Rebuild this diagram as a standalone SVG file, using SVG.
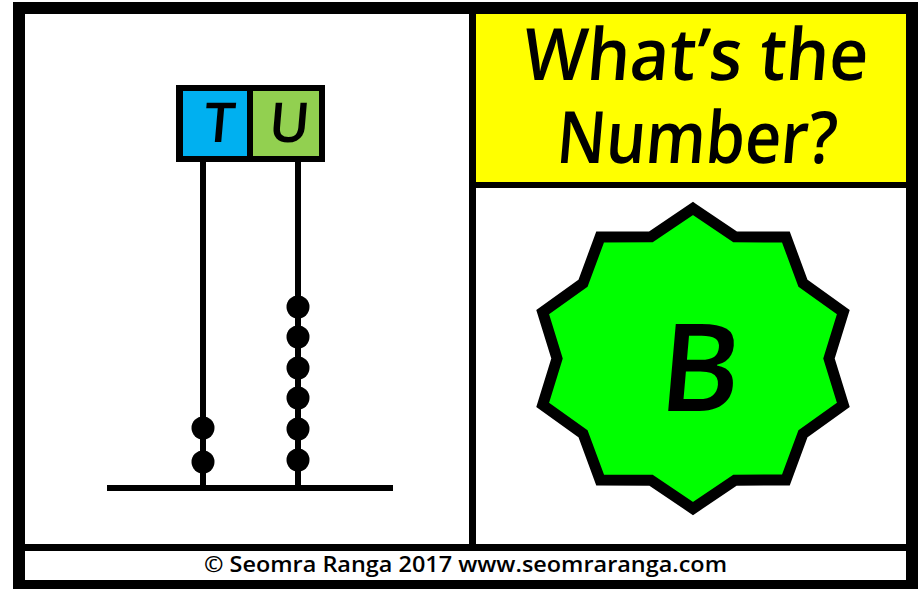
<svg xmlns="http://www.w3.org/2000/svg" width="922" height="589" viewBox="0 0 922 589">
  <style>
    .lbl { font-family: "Open Sans", "Liberation Sans", sans-serif; fill: #000; font-weight: 600; }
    .rod { stroke: #000; stroke-width: 6; fill: none; }
    .bead { fill: #000; }
  </style>
  <g id="frame">
    <rect x="13" y="2" width="905" height="587" fill="#000"/>
    <rect x="25" y="14" width="444" height="530" fill="#fff"/>
    <rect x="476" y="14" width="430" height="168" fill="#ffff00"/>
    <rect x="476" y="188" width="430" height="356" fill="#fff"/>
    <rect x="25" y="551" width="881" height="29" fill="#fff"/>
  </g>
  <g id="title">
    <g transform="translate(694 80) skewX(-5)">
      <text class="lbl" x="0" y="0" font-size="72" text-anchor="middle" textLength="345" lengthAdjust="spacingAndGlyphs">What’s the</text>
    </g>
    <g transform="translate(695 163) skewX(-5)">
      <text class="lbl" x="0" y="0" font-size="72" text-anchor="middle" textLength="280" lengthAdjust="spacingAndGlyphs">Number?</text>
    </g>
  </g>
  <g id="abacus">
    <g id="rods">
      <line class="rod" x1="203" y1="160" x2="203" y2="488"/>
      <line class="rod" x1="298" y1="160" x2="298" y2="488"/>
      <line class="rod" x1="107" y1="488" x2="393" y2="488"/>
    </g>
    <g id="header-box">
      <rect x="176" y="85" width="149" height="77" fill="#000"/>
      <rect x="183" y="91" width="64" height="65" fill="#00b0f0"/>
      <rect x="253" y="91" width="66" height="65" fill="#92d050"/>
      <g transform="translate(218 142) skewX(-5)">
        <text class="lbl" x="0" y="0" font-size="55" text-anchor="middle">T</text>
      </g>
      <g transform="translate(288 142) skewX(-5)">
        <text class="lbl" x="0" y="0" font-size="55" text-anchor="middle">U</text>
      </g>
    </g>
    <g id="tens-beads">
      <circle class="bead" cx="203" cy="428" r="11.5"/>
      <circle class="bead" cx="203" cy="462" r="11.5"/>
    </g>
    <g id="units-beads">
      <circle class="bead" cx="298" cy="307" r="11.5"/>
      <circle class="bead" cx="298" cy="337" r="11.5"/>
      <circle class="bead" cx="298" cy="368" r="11.5"/>
      <circle class="bead" cx="298" cy="398" r="11.5"/>
      <circle class="bead" cx="298" cy="429" r="11.5"/>
      <circle class="bead" cx="298" cy="460" r="11.5"/>
    </g>
  </g>
  <g id="star">
    <polygon points="693,208.5 735,236.8 785.9,237.1 803,283.3 843.3,312.1 829,358.5 843.3,404.9 803,433.7 785.9,479.9 735,480.2 693,508.5 651,480.2 600.1,479.9 583,433.7 542.7,404.9 557,358.5 542.7,312.1 583,283.3 600.1,237.1 651,236.8" fill="#00ff00" stroke="#000" stroke-width="11" stroke-linejoin="miter" stroke-miterlimit="10"/>
    <g transform="translate(697 411) skewX(-5)">
      <text class="lbl" x="0" y="0" font-size="122" text-anchor="middle">B</text>
    </g>
  </g>
  <g id="footer">
    <text class="lbl" x="204" y="572" font-size="22" textLength="523" lengthAdjust="spacingAndGlyphs">© Seomra Ranga 2017 www.seomraranga.com</text>
  </g>
</svg>
